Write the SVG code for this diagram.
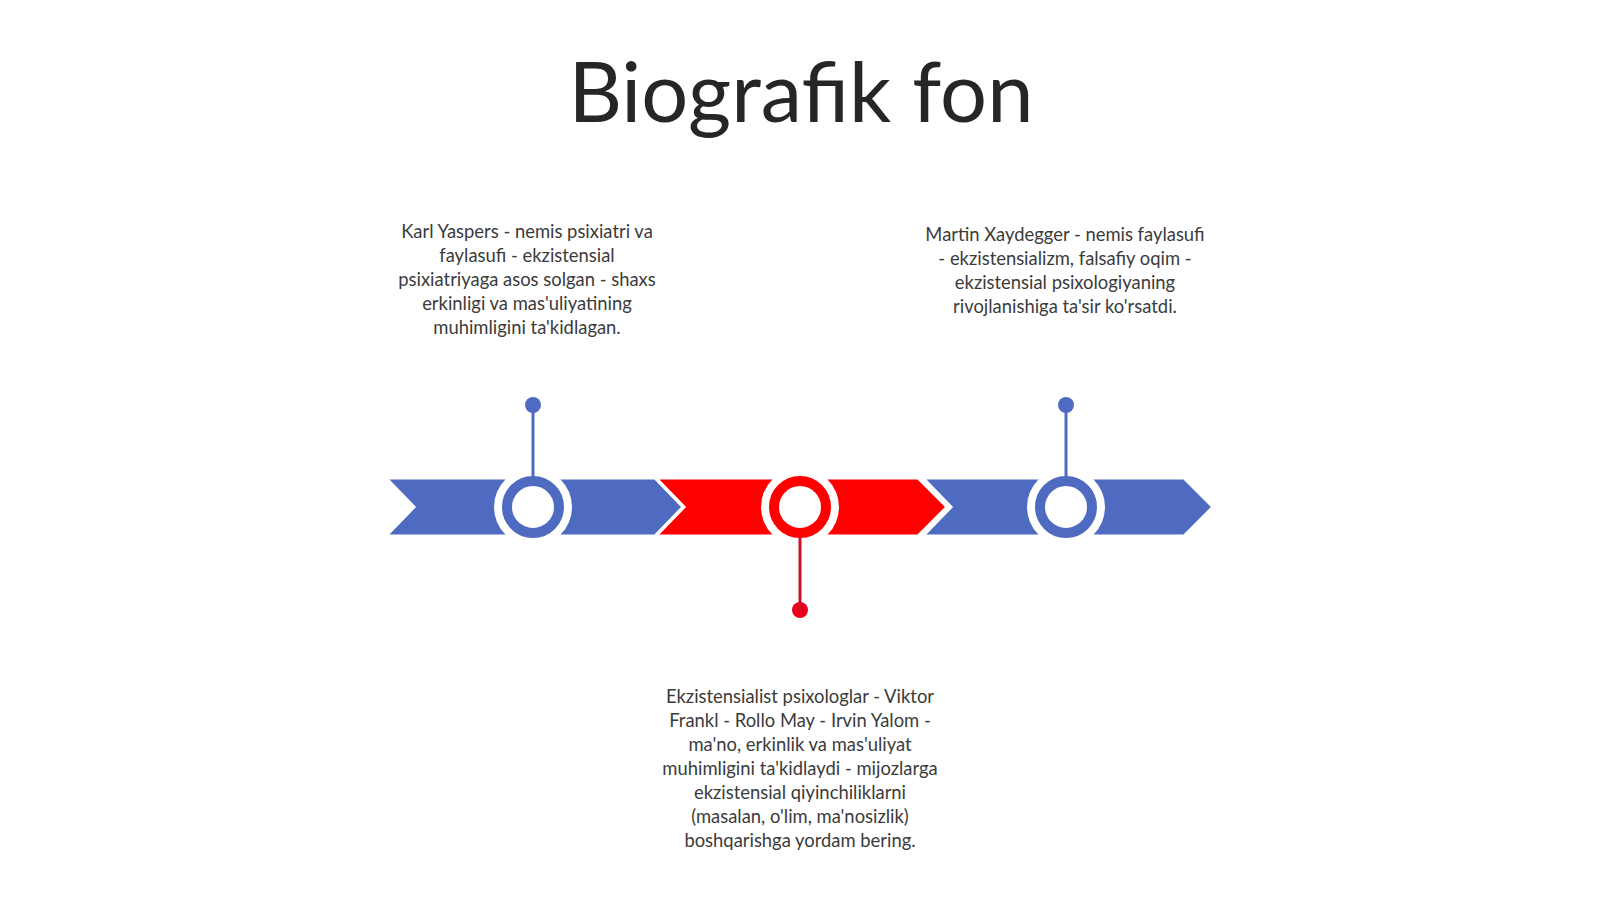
<svg xmlns="http://www.w3.org/2000/svg" width="1600" height="899" viewBox="0 0 1600 899">
<style>
.t{font-family:Lato,"Liberation Sans",sans-serif;fill:#3b3b3b;font-size:18.4px;text-anchor:middle}
.title{font-family:Lato,"Liberation Sans",sans-serif;fill:#262626;font-size:83px;text-anchor:middle}
.blue{fill:#4F6BC1;stroke:#fff;stroke-width:3;stroke-linejoin:miter}
.red{fill:#FF0000;stroke:#fff;stroke-width:3;stroke-linejoin:miter}
.gap{fill:#fff}
.ringb{fill:#fff;stroke:#4F6BC1;stroke-width:10}
.ringr{fill:#fff;stroke:#FF0000;stroke-width:10}
.stemb{stroke:#4F6BC1;stroke-width:3}
.stemr{stroke:#D0102A;stroke-width:3}
</style>
<rect width="1600" height="899" fill="#fff"/>
<text class="title" x="801" y="122">Biografik fon</text>
<g id="chevrons">
<path class="blue" d="M386 478 L655 478 L683 507 L655 536 L386 536 L414 507 Z"/>
<path class="red" d="M656 478 L918 478 L947 507 L918 536 L656 536 L684 507 Z"/>
<path class="blue" d="M923 478 L1184 478 L1213 507 L1184 536 L923 536 L951 507 Z"/>
</g>
<g id="node1">
<circle class="gap" cx="533" cy="507" r="39"/>
<circle class="ringb" cx="533" cy="507" r="26"/>
<circle cx="533" cy="405" r="8" fill="#4F6BC1"/>
<text class="t" x="527" y="238">Karl Yaspers - nemis psixiatri va</text>
<text class="t" x="527" y="262">faylasufi - ekzistensial</text>
<text class="t" x="527" y="286">psixiatriyaga asos solgan - shaxs</text>
<text class="t" x="527" y="310">erkinligi va mas'uliyatining</text>
<text class="t" x="527" y="334">muhimligini ta'kidlagan.</text>
</g>
<g id="node2">
<circle class="gap" cx="800" cy="507" r="39"/>
<circle class="ringr" cx="800" cy="507" r="26"/>
<circle cx="800" cy="610" r="8" fill="#E8001C"/>
<text class="t" x="800" y="703">Ekzistensialist psixologlar - Viktor</text>
<text class="t" x="800" y="727">Frankl - Rollo May - Irvin Yalom -</text>
<text class="t" x="800" y="751">ma'no, erkinlik va mas'uliyat</text>
<text class="t" x="800" y="775">muhimligini ta'kidlaydi - mijozlarga</text>
<text class="t" x="800" y="799">ekzistensial qiyinchiliklarni</text>
<text class="t" x="800" y="823">(masalan, o'lim, ma'nosizlik)</text>
<text class="t" x="800" y="847">boshqarishga yordam bering.</text>
</g>
<g id="node3">
<circle class="gap" cx="1066" cy="507" r="39"/>
<circle class="ringb" cx="1066" cy="507" r="26"/>
<circle cx="1066" cy="405" r="8" fill="#4F6BC1"/>
<text class="t" x="1065" y="241">Martin Xaydegger - nemis faylasufi</text>
<text class="t" x="1065" y="265">- ekzistensializm, falsafiy oqim -</text>
<text class="t" x="1065" y="289">ekzistensial psixologiyaning</text>
<text class="t" x="1065" y="313">rivojlanishiga ta'sir ko'rsatdi.</text>
</g>
<g id="connectors">
<line class="stemb" x1="533" y1="405" x2="533" y2="477"/>
<line class="stemr" x1="800" y1="537" x2="800" y2="610"/>
<line class="stemb" x1="1066" y1="405" x2="1066" y2="477"/>
</g>
</svg>
